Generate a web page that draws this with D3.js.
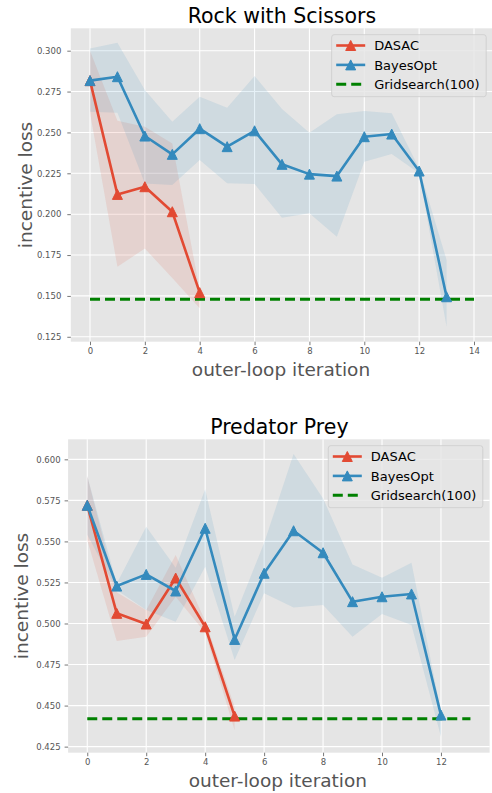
<!DOCTYPE html>
<html>
<head>
<meta charset="utf-8">
<script src="https://cdn.jsdelivr.net/npm/d3@7"></script>
<style>
  html, body { margin: 0; padding: 0; background: #fff; }
  svg { display: block; }
  text { font-family: "DejaVu Sans", sans-serif; }
</style>
</head>
<body>
<svg id="chart" width="492" height="793"></svg>
<script>
// ---------- DATA ----------
const seriesNames = ["DASAC", "BayesOpt", "Gridsearch(100)"];

// Rock with Scissors
const rsTitle = "Rock with Scissors";
const rsDasacX = [0, 1, 2, 3, 4];
const rsDasac   = [0.2817, 0.2121, 0.2168, 0.2015, 0.1520];
const rsDasacHi = [0.3000, 0.2572, 0.2535, 0.2433, 0.1536];
const rsDasacLo = [0.2620, 0.1678, 0.1790, 0.1610, 0.1424];
const rsBayesX = [0, 1, 2, 3, 4, 5, 6, 7, 8, 9, 10, 11, 12, 13];
const rsBayes   = [0.2817, 0.2841, 0.2478, 0.2366, 0.2523, 0.2413, 0.2510, 0.2305, 0.2245, 0.2233, 0.2474, 0.2490, 0.2264, 0.1495];
const rsBayesHi = [0.3014, 0.3049, 0.2760, 0.2566, 0.2719, 0.2651, 0.2845, 0.2643, 0.2498, 0.2611, 0.2631, 0.2617, 0.2280, 0.1720];
const rsBayesLo = [0.2627, 0.2620, 0.2187, 0.2178, 0.2331, 0.2189, 0.2184, 0.1978, 0.2005, 0.1862, 0.2321, 0.2368, 0.2250, 0.1312];
const rsGridX = [0, 14];
const rsGrid = 0.148;
const rsXTicks = [0, 2, 4, 6, 8, 10, 12, 14];
const rsYTicks = [0.125, 0.150, 0.175, 0.200, 0.225, 0.250, 0.275, 0.300];

// Predator Prey
const ppTitle = "Predator Prey";
const ppDasacX = [0, 1, 2, 3, 4, 5];
const ppDasac   = [0.5720, 0.5062, 0.4997, 0.5277, 0.4980, 0.4436];
const ppDasacHi = [0.5898, 0.5190, 0.5080, 0.5417, 0.5015, 0.4493];
const ppDasacLo = [0.5508, 0.4893, 0.4920, 0.5163, 0.4945, 0.4350];
const ppBayesX = [0, 1, 2, 3, 4, 5, 6, 7, 8, 9, 10, 11, 12];
const ppBayes   = [0.5720, 0.5228, 0.5299, 0.5198, 0.5580, 0.4903, 0.5306, 0.5565, 0.5431, 0.5133, 0.5163, 0.5180, 0.4442];
const ppBayesHi = [0.5898, 0.5244, 0.5590, 0.5340, 0.5817, 0.5041, 0.5490, 0.6032, 0.5762, 0.5360, 0.5279, 0.5370, 0.4463];
const ppBayesLo = [0.5540, 0.5204, 0.5082, 0.5011, 0.5346, 0.4778, 0.5184, 0.5098, 0.5113, 0.4920, 0.5058, 0.4991, 0.4310];
const ppGridX = [0, 13];
const ppGrid = 0.442;
const ppXTicks = [0, 2, 4, 6, 8, 10, 12];
const ppYTicks = [0.425, 0.450, 0.475, 0.500, 0.525, 0.550, 0.575, 0.600];

const xLabel = "outer-loop iteration";
const yLabel = "incentive loss";

// ---------- STYLE ----------
const RED = "#E24A33", BLUE = "#348ABD", GREEN = "#008000";
const BG = "#E5E5E5", TXT = "#555555";

const svg = d3.select("#chart");

function triPath(s) {
  return `M0,${-s}L${-s},${s}L${s},${s}Z`;
}

function drawPanel(cfg) {
  const g = svg.append("g");
  const x = d3.scaleLinear().domain(cfg.xDomain).range([cfg.left, cfg.right]);
  const y = d3.scaleLinear().domain(cfg.yDomain).range([cfg.bottom, cfg.top]);

  const clipId = "clip" + cfg.id;
  svg.append("clipPath").attr("id", clipId)
    .append("rect").attr("x", cfg.left).attr("y", cfg.top)
    .attr("width", cfg.right - cfg.left).attr("height", cfg.bottom - cfg.top);

  g.append("rect").attr("x", cfg.left).attr("y", cfg.top)
    .attr("width", cfg.right - cfg.left).attr("height", cfg.bottom - cfg.top)
    .attr("fill", BG);

  // grid
  g.selectAll(".vg").data(cfg.xTicks).enter().append("line")
    .attr("x1", d => x(d)).attr("x2", d => x(d))
    .attr("y1", cfg.top).attr("y2", cfg.bottom)
    .attr("stroke", "#fff").attr("stroke-width", 1.1);
  g.selectAll(".hg").data(cfg.yTicks).enter().append("line")
    .attr("y1", d => y(d)).attr("y2", d => y(d))
    .attr("x1", cfg.left).attr("x2", cfg.right)
    .attr("stroke", "#fff").attr("stroke-width", 1.1);

  // axes
  const xAxis = d3.axisBottom(x).tickValues(cfg.xTicks).tickFormat(d3.format("d"))
    .tickSizeInner(3.5).tickSizeOuter(0).tickPadding(3);
  const xa = g.append("g").attr("transform", `translate(0,${cfg.bottom})`).call(xAxis);
  const yAxis = d3.axisLeft(y).tickValues(cfg.yTicks).tickFormat(d3.format(".3f"))
    .tickSizeInner(3.5).tickSizeOuter(0).tickPadding(cfg.yPad);
  const ya = g.append("g").attr("transform", `translate(${cfg.left},0)`).call(yAxis);
  [xa, ya].forEach(a => {
    a.select(".domain").remove();
    a.selectAll(".tick line").attr("stroke", TXT).attr("stroke-width", 0.8);
    a.selectAll(".tick text").attr("fill", TXT).style("font-size", "8.5px")
      .style("font-family", "'DejaVu Sans', sans-serif");
  });

  const plot = g.append("g").attr("clip-path", `url(#${clipId})`);

  // bands
  const area = (xs, lo, hi) => d3.area()
    .x((d, i) => x(xs[i])).y0((d, i) => y(lo[i])).y1((d, i) => y(hi[i]))(xs);
  plot.append("path").attr("d", area(cfg.dasacX, cfg.dasacLo, cfg.dasacHi))
    .attr("fill", RED).attr("fill-opacity", 0.12);
  plot.append("path").attr("d", area(cfg.bayesX, cfg.bayesLo, cfg.bayesHi))
    .attr("fill", BLUE).attr("fill-opacity", 0.12);

  // gridsearch
  plot.append("line")
    .attr("x1", x(cfg.gridX[0])).attr("x2", x(cfg.gridX[1]))
    .attr("y1", y(cfg.grid)).attr("y2", y(cfg.grid))
    .attr("stroke", GREEN).attr("stroke-width", 3).attr("stroke-dasharray", "10,5");

  const line = (xs, ys) => d3.line().x((d, i) => x(xs[i])).y((d, i) => y(ys[i]))(xs);
  [[cfg.dasacX, cfg.dasac, RED], [cfg.bayesX, cfg.bayes, BLUE]].forEach(([xs, ys, col]) => {
    plot.append("path").attr("d", line(xs, ys)).attr("fill", "none")
      .attr("stroke", col).attr("stroke-width", 2.6).attr("stroke-linejoin", "round");
    plot.selectAll(null).data(xs).enter().append("path")
      .attr("d", triPath(5))
      .attr("transform", (d, i) => `translate(${x(d)},${y(ys[i])})`)
      .attr("fill", col).attr("stroke", col).attr("stroke-width", 1).attr("stroke-linejoin", "miter");
  });

  // title
  g.append("text").attr("x", (cfg.left + Math.min(cfg.right, 492)) / 2 + 0.5).attr("y", cfg.titleY)
    .attr("text-anchor", "middle").attr("fill", "#000").style("font-size", "20.5px").text(cfg.title);
  // x label
  g.append("text").attr("x", (cfg.left + cfg.right) / 2 - 1).attr("y", cfg.xLabelY)
    .attr("text-anchor", "middle").attr("fill", TXT).style("font-size", "18.5px").text(xLabel);
  // y label
  g.append("text").attr("transform", `translate(${cfg.yLabelX},${(cfg.top + cfg.bottom) / 2}) rotate(-90)`)
    .attr("text-anchor", "middle").attr("fill", TXT).style("font-size", "18.5px").text(yLabel);

  // legend
  const L = cfg.legend;
  const lg = g.append("g");
  lg.append("rect").attr("x", L.x).attr("y", L.y).attr("width", 154.5).attr("height", 62)
    .attr("rx", 2.5).attr("fill", BG).attr("fill-opacity", 0.8)
    .attr("stroke", "#cccccc").attr("stroke-width", 0.8);
  const rows = [
    {name: seriesNames[0], col: RED, marker: true, dash: null},
    {name: seriesNames[1], col: BLUE, marker: true, dash: null},
    {name: seriesNames[2], col: GREEN, marker: false, dash: "10,5"}
  ];
  rows.forEach((r, i) => {
    const cy = L.y + 10.8 + i * 19.4;
    const x0 = L.x + 4.5, x1 = L.x + 33.5;
    lg.append("line").attr("x1", x0).attr("x2", x1).attr("y1", cy).attr("y2", cy)
      .attr("stroke", r.col).attr("stroke-width", r.marker ? 2.6 : 3)
      .attr("stroke-dasharray", r.dash);
    if (r.marker) {
      lg.append("path").attr("d", triPath(5))
        .attr("transform", `translate(${(x0 + x1) / 2},${cy})`)
        .attr("fill", r.col).attr("stroke", r.col).attr("stroke-width", 1);
    }
    lg.append("text").attr("x", L.x + 42.5).attr("y", cy).attr("dy", "0.36em")
      .attr("fill", "#000").style("font-size", "13px").text(r.name);
  });
}

drawPanel({
  id: "rs", title: rsTitle,
  left: 70.8, right: 493.2, top: 28.3, bottom: 341.7,
  xDomain: [-0.7, 14.7], yDomain: [0.1220, 0.3137],
  xTicks: rsXTicks, yTicks: rsYTicks, yPad: 6,
  dasacX: rsDasacX, dasac: rsDasac, dasacHi: rsDasacHi, dasacLo: rsDasacLo,
  bayesX: rsBayesX, bayes: rsBayes, bayesHi: rsBayesHi, bayesLo: rsBayesLo,
  gridX: rsGridX, grid: rsGrid,
  titleY: 22.7, xLabelY: 376, yLabelX: 31.5,
  legend: {x: 331.7, y: 34.7}
});

drawPanel({
  id: "pp", title: ppTitle,
  left: 68.1, right: 489.6, top: 439.3, bottom: 752.7,
  xDomain: [-0.65, 13.65], yDomain: [0.4213, 0.6122],
  xTicks: ppXTicks, yTicks: ppYTicks, yPad: 4,
  dasacX: ppDasacX, dasac: ppDasac, dasacHi: ppDasacHi, dasacLo: ppDasacLo,
  bayesX: ppBayesX, bayes: ppBayes, bayesHi: ppBayesHi, bayesLo: ppBayesLo,
  gridX: ppGridX, grid: ppGrid,
  titleY: 434, xLabelY: 787, yLabelX: 28.3,
  legend: {x: 328.3, y: 445.7}
});
</script>
</body>
</html>
